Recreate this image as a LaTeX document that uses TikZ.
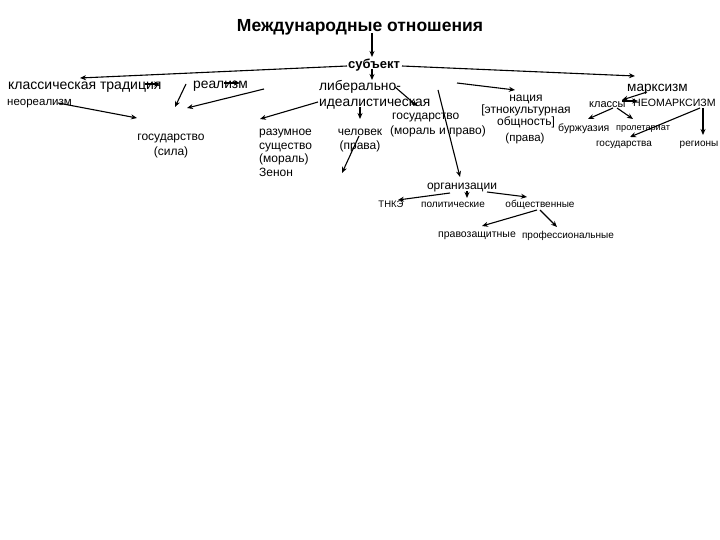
\documentclass[tikz,border=0pt]{standalone}
\usepackage{fontspec}
\setmainfont{Liberation Sans}
\usetikzlibrary{arrows.meta}
\begin{document}
\begin{tikzpicture}[x=1pt,y=-1pt,
  txt/.style={inner sep=0pt,yshift=-2.5pt,font=\fontsize{#1}{#1}\selectfont},
  txt/.default=11,
  ml/.style={inner sep=0pt,align=left,font=\fontsize{12}{13.5}\selectfont},
  mc/.style 2 args={inner sep=0pt,yshift=-2.5pt,align=center,font=\fontsize{#1}{#2}\selectfont},
  arr/.style={-{Stealth[length=6pt,width=5pt]},line width=1.1pt,black}]
\useasboundingbox[fill=white] (0,0) rectangle (720,540);
% texts
\node[txt=17.5,font=\fontsize{17.5}{17.5}\selectfont\bfseries] (title) at (360,25) {Международные отношения};
\node[txt=13,font=\fontsize{13}{13}\selectfont\bfseries] (subj) at (374,63) {субъект};
\node[txt=14,anchor=west] (klass) at (8,85) {классическая традиция};
\node[txt=11.5,anchor=west] (neoreal) at (7,101) {неореализм};
\node[txt=13.8,anchor=west] (realism) at (193,84) {реализм};
\node[mc={12}{15}] (gos1) at (171,144) {государство\\(сила)};
\node[ml,anchor=north west] (razum) at (259,129) {разумное\\существо\\(мораль)\\Зенон};
\node[txt=13.8,anchor=west] (lib1) at (319,84) {либерально-};
\node[txt=13.8,anchor=west] (lib2) at (319,102) {идеалистическая};
\node[mc={12}{14}] (chel) at (360,138) {человек\\(права)};
\node[txt=12,anchor=west] (gos2) at (392,115) {государство};
\node[txt=12,anchor=west] (moral) at (390,129) {(мораль и право)};
\node[mc={12}{10.5}] (nation) at (526,109) {нация\\{[}этнокультурная\\общность{]}};
\node[txt=11.5] (prava2) at (525,136) {(права)};
\node[txt=13.6,anchor=west] (marx) at (627,87) {марксизм};
\node[txt=11,anchor=west] (klassy) at (589,102) {классы};
\node[txt=10.6,anchor=west] (neomarx) at (633,100) {НЕОМАРКСИЗМ};
\node[txt=10.5,anchor=west] (burzh) at (558,126) {буржуазия};
\node[txt=9.2,anchor=west] (prolet) at (616,126) {пролетариат};
\node[txt=10] (gosa) at (624,142) {государства};
\node[txt=10] (regiony) at (699,142) {регионы};
\node[txt=12] (org) at (462,185) {организации};
\node[txt=9.5] (tnk) at (391,202) {ТНКЭ};
\node[txt=10] (polit) at (453,202) {политические};
\node[txt=10] (obsh) at (540,202) {общественные};
\node[txt=10.5] (pravoz) at (477,233) {правозащитные};
\node[txt=10] (prof) at (568,233) {профессиональные};
% free ends
\coordinate (p1) at (372,33); \coordinate (q1) at (372,57);
\coordinate (p2) at (347,66); \coordinate (q2) at (80,78);
\coordinate (p3) at (402,66); \coordinate (q3) at (635,76);
\coordinate (p4) at (372,69); \coordinate (q4) at (372,80);
\coordinate (p5) at (145,84); \coordinate (q5) at (160,84);
\coordinate (p6) at (224,83); \coordinate (q6) at (240,83);
\coordinate (p7) at (58,103); \coordinate (q7) at (137,118);
\coordinate (p8) at (186,84); \coordinate (q8) at (175,107);
\coordinate (p9) at (264,89); \coordinate (q9) at (187,108);
\coordinate (p10) at (318,102); \coordinate (q10) at (260,119);
\coordinate (p11) at (395,87); \coordinate (q11) at (417,106);
\coordinate (p12) at (360,107); \coordinate (q12) at (360,119);
\coordinate (p13) at (359,136); \coordinate (q13) at (342,173);
\coordinate (p14) at (438,90); \coordinate (q14) at (460,177);
\coordinate (p15) at (457,83); \coordinate (q15) at (515,90);
\coordinate (p16) at (647,92); \coordinate (q16) at (622,100);
\coordinate (p17) at (622,101); \coordinate (q17) at (638,101);
\coordinate (p18) at (613,108); \coordinate (q18) at (588,119);
\coordinate (p19) at (617,108); \coordinate (q19) at (633,119);
\coordinate (p20) at (700,108); \coordinate (q20) at (630,137);
\coordinate (p21) at (703,108); \coordinate (q21) at (703,135);
\coordinate (p22) at (450,193); \coordinate (q22) at (398,200);
\coordinate (p23) at (467,191); \coordinate (q23) at (467,198);
\coordinate (p24) at (487,192); \coordinate (q24) at (527,197);
\coordinate (p25) at (537,210); \coordinate (q25) at (482,226);
\coordinate (p26) at (540,210); \coordinate (q26) at (557,227);
\foreach \i in {1,...,26} {\draw[arr] (p\i) -- (q\i);}
\end{tikzpicture}
\end{document}
